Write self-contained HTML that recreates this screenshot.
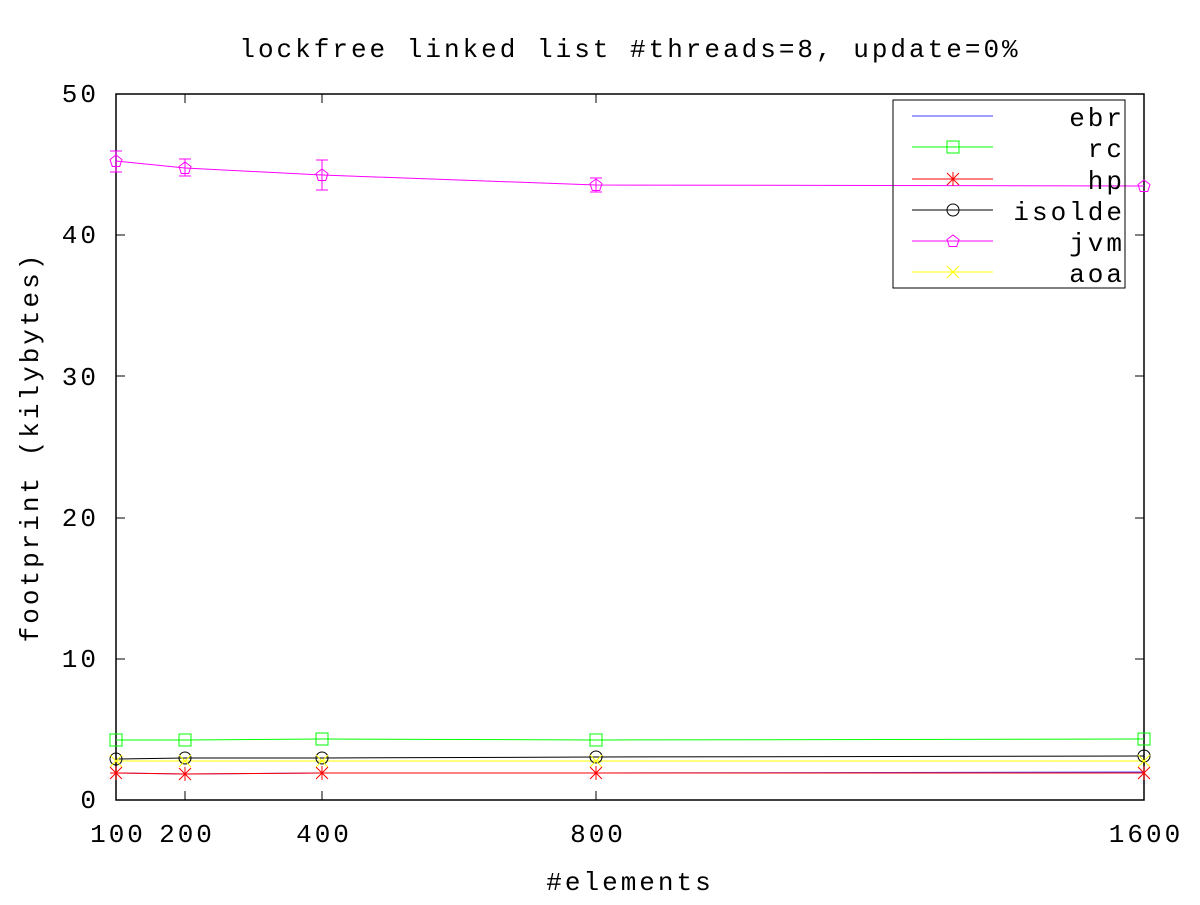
<!DOCTYPE html>
<html><head><style>body{margin:0;background:#fff}</style></head><body>
<svg width="1200" height="900" xmlns="http://www.w3.org/2000/svg" font-family="Liberation Mono, monospace" font-size="26" letter-spacing="3">
<rect width="1200" height="900" fill="#fff"/>
<text x="630" y="57" text-anchor="middle">lockfree linked list #threads=8, update=0%</text>
<text x="630" y="890" text-anchor="middle">#elements</text>
<text transform="translate(38,447) rotate(-90)" text-anchor="middle">footprint (kilybytes)</text>
<g text-anchor="end">
<text x="99" y="808">0</text><text x="99" y="667">10</text><text x="99" y="526">20</text>
<text x="99" y="385">30</text><text x="99" y="243">40</text><text x="99" y="102">50</text>
</g>
<g text-anchor="middle">
<text x="118" y="842">100</text><text x="187" y="842">200</text><text x="324" y="842">400</text>
<text x="598" y="842">800</text><text x="1146" y="842">1600</text>
</g>
<g stroke="#000" stroke-width="1">
<path d="M116 659h9M116 518h9M116 376h9M116 235h9M1144 659h-9M1144 518h-9M1144 376h-9M1144 235h-9M185 800v-9M322 800v-9M596 800v-9M185 94v9M322 94v9M596 94v9"/>
</g>
<rect x="116" y="94" width="1028" height="706" fill="none" stroke="#000" stroke-width="1.5"/>
<polyline points="116,773 185,774 322,773 596,773 1144,772" fill="none" stroke="#4040ff"/>
<polyline points="116,740 185,740 322,739 596,740 1144,739" fill="none" stroke="#00ff00"/>
<polyline points="116,773 185,774 322,773 596,773 1144,773" fill="none" stroke="#ff0000"/>
<polyline points="116,759 185,758 322,758 596,757 1144,756" fill="none" stroke="#000"/>
<polyline points="116,761 185,761 322,761 596,761 1144,761" fill="none" stroke="#ffff00"/>
<polyline points="116,161 185,168 322,175 596,185 1144,186" fill="none" stroke="#ff00ff"/>
<g fill="none" stroke="#00ff00">
<rect x="110" y="734" width="12" height="12"/><rect x="179" y="734" width="12" height="12"/><rect x="316" y="733" width="12" height="12"/><rect x="590" y="734" width="12" height="12"/><rect x="1138" y="733" width="12" height="12"/>
<rect x="947" y="141" width="12" height="12"/>
</g>
<g fill="none" stroke="#000">
<circle cx="116" cy="759" r="6"/><circle cx="185" cy="758" r="6"/><circle cx="322" cy="758" r="6"/><circle cx="596" cy="757" r="6"/><circle cx="1144" cy="756" r="6"/>
<circle cx="953" cy="210" r="6"/>
</g>
<g stroke="#ffff00" fill="none">
<path d="M110 755l12 12M122 755l-12 12M179 755l12 12M191 755l-12 12M316 755l12 12M328 755l-12 12M590 755l12 12M602 755l-12 12M1138 755l12 12M1150 755l-12 12M947 266l12 12M959 266l-12 12"/>
</g>
<g stroke="#ff0000" fill="none">
<path d="M110 767l12 12M122 767l-12 12M116 766v14M110 773h12"/>
<path d="M179 768l12 12M191 768l-12 12M185 767v14"/>
<path d="M316 767l12 12M328 767l-12 12M322 766v14"/>
<path d="M590 767l12 12M602 767l-12 12M596 766v14"/>
<path d="M1138 767l12 12M1150 767l-12 12M1144 766v14"/>
<path d="M947 173l12 12M959 173l-12 12M953 172v14"/>
</g>
<g stroke="#ff00ff" fill="none">
<path d="M116 151v21M110 151h12M110 172h12M185 159v17M179 159h12M179 176h12M322 160v30M316 160h12M316 190h12M596 178v14M590 178h12M590 192h12"/>
<path d="M116 155l6 4.5-2.3 7h-7.4l-2.3-7z"/>
<path d="M185 162l6 4.5-2.3 7h-7.4l-2.3-7z"/>
<path d="M322 169l6 4.5-2.3 7h-7.4l-2.3-7z"/>
<path d="M596 179l6 4.5-2.3 7h-7.4l-2.3-7z"/>
<path d="M1144 180l6 4.5-2.3 7h-7.4l-2.3-7z"/>
<path d="M953 235l6 4.5-2.3 7h-7.4l-2.3-7z"/>
</g>
<rect x="893" y="100" width="232" height="188" fill="none" stroke="#000"/>
<path d="M912 116h81" stroke="#4040ff"/>
<path d="M912 147h81" stroke="#00ff00"/>
<path d="M912 179h81" stroke="#ff0000"/>
<path d="M912 210h81" stroke="#000"/>
<path d="M912 241h81" stroke="#ff00ff"/>
<path d="M912 272h81" stroke="#ffff00"/>
<g text-anchor="end">
<text x="1125" y="126">ebr</text><text x="1125" y="157">rc</text><text x="1125" y="189">hp</text>
<text x="1125" y="220">isolde</text><text x="1125" y="251">jvm</text><text x="1125" y="282">aoa</text>
</g>
</svg>
</body></html>
